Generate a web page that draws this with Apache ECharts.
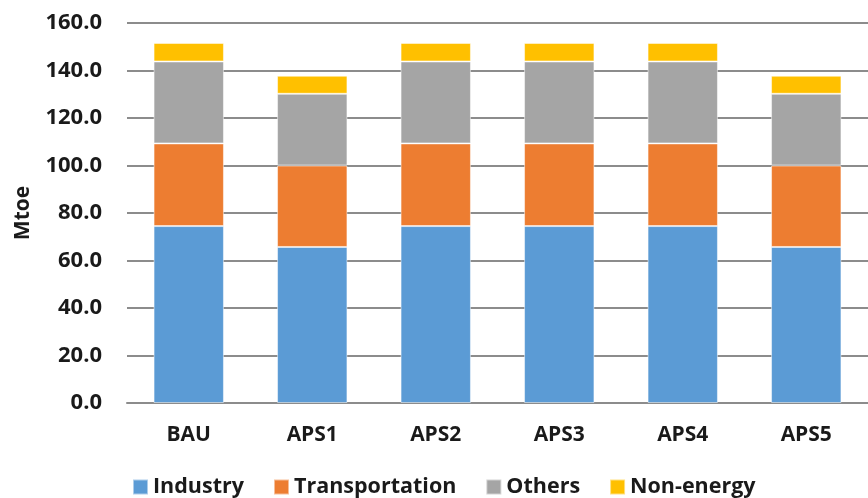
<!DOCTYPE html>
<html>
<head>
<meta charset="utf-8">
<script src="https://cdn.jsdelivr.net/npm/echarts@6/dist/echarts.min.js"></script>
<style>
  html, body { margin: 0; padding: 0; background: #fff; }
  #chart { width: 868px; height: 498px; }
</style>
</head>
<body>
<div id="chart"></div>
<script>
const categories = ['BAU', 'APS1', 'APS2', 'APS3', 'APS4', 'APS5'];
const industry = [74.5, 65.7, 74.5, 74.5, 74.5, 65.7];
const transportation = [34.8, 34.3, 34.8, 34.8, 34.8, 34.3];
const others = [34.5, 30.2, 34.5, 34.5, 34.5, 30.2];
const nonEnergy = [7.8, 7.6, 7.8, 7.8, 7.8, 7.6];

const font = '"Open Sans", sans-serif';

const makeSeries = (name, data, color) => ({
    name: name,
    type: 'bar',
    stack: 'total',
    data: data,
    barWidth: '57%',
    itemStyle: {color: color, borderColor: 'rgba(255,255,255,0.5)', borderWidth: 1}
});

const chart = echarts.init(document.getElementById('chart'));
chart.setOption({
    animation: false,
    textStyle: {fontFamily: font},
    grid: {left: 127, top: 23, width: 750, bottom: 95},
    legend: {
        left: 132,
        top: 476,
        padding: 0,
        itemWidth: 15,
        itemHeight: 15,
        itemGap: 29,
        icon: 'rect',
        textStyle: {fontFamily: font, fontSize: 21.5, fontWeight: 'bold', color: '#1a1a1a'},
        data: ['Industry', 'Transportation', 'Others', 'Non-energy']
    },
    xAxis: {
        type: 'category',
        data: categories,
        axisTick: {show: false},
        axisLine: {lineStyle: {color: '#8c8c8c', width: 2}},
        axisLabel: {fontFamily: font, fontSize: 21, fontWeight: 'bold', color: '#1a1a1a', margin: 22}
    },
    yAxis: {
        type: 'value',
        min: 0,
        max: 160,
        interval: 20,
        name: 'Mtoe',
        nameLocation: 'middle',
        nameGap: 93,
        nameRotate: 90,
        nameTextStyle: {fontFamily: font, fontSize: 21, fontWeight: 'bold', color: '#1a1a1a'},
        axisLine: {show: false},
        axisTick: {show: false},
        splitLine: {lineStyle: {color: '#8c8c8c', width: 2}},
        axisLabel: {
            fontFamily: font, fontSize: 22, fontWeight: 'bold', color: '#1a1a1a', margin: 25,
            formatter: v => v.toFixed(1)
        }
    },
    series: [
        makeSeries('Industry', industry, '#5b9bd5'),
        makeSeries('Transportation', transportation, '#ed7d31'),
        makeSeries('Others', others, '#a5a5a5'),
        makeSeries('Non-energy', nonEnergy, '#ffc000')
    ]
});
</script>
</body>
</html>
